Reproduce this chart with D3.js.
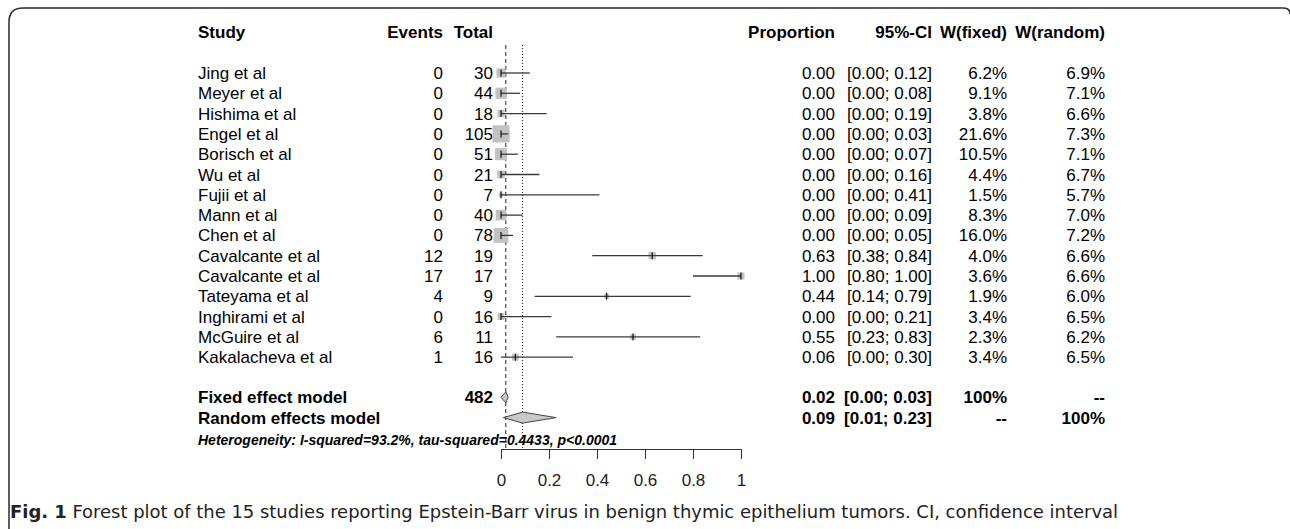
<!DOCTYPE html>
<html>
<head>
<meta charset="utf-8">
<script src="https://cdn.jsdelivr.net/npm/d3@7"></script>
<style>
  html, body { margin: 0; padding: 0; background: #fff; }
  svg { display: block; font-family: "Liberation Sans", Arial, sans-serif; }
</style>
</head>
<body>
<svg id="chart" width="1290" height="529"></svg>
<script>
// study data
const studies = ['Jing et al', 'Meyer et al', 'Hishima et al', 'Engel et al', 'Borisch et al',
  'Wu et al', 'Fujii et al', 'Mann et al', 'Chen et al', 'Cavalcante et al', 'Cavalcante et al',
  'Tateyama et al', 'Inghirami et al', 'McGuire et al', 'Kakalacheva et al'];
const events = [0, 0, 0, 0, 0, 0, 0, 0, 0, 12, 17, 4, 0, 6, 1];
const totals = [30, 44, 18, 105, 51, 21, 7, 40, 78, 19, 17, 9, 16, 11, 16];
const prop = [0, 0, 0, 0, 0, 0, 0, 0, 0, 0.63, 1.00, 0.44, 0, 0.55, 0.06];
const lower = [0, 0, 0, 0, 0, 0, 0, 0, 0, 0.38, 0.80, 0.14, 0, 0.23, 0];
const upper = [0.12, 0.08, 0.19, 0.03, 0.07, 0.16, 0.41, 0.09, 0.05, 0.84, 1.00, 0.79, 0.21, 0.83, 0.30];
const wFixed = [6.2, 9.1, 3.8, 21.6, 10.5, 4.4, 1.5, 8.3, 16.0, 4.0, 3.6, 1.9, 3.4, 2.3, 3.4];
const wRandom = [6.9, 7.1, 6.6, 7.3, 7.1, 6.7, 5.7, 7.0, 7.2, 6.6, 6.6, 6.0, 6.5, 6.2, 6.5];

// pooled estimates
const models = ['Fixed effect model', 'Random effects model'];
const modelEst = [0.02, 0.09];
const modelLo = [0.00, 0.01];
const modelHi = [0.03, 0.23];
const modelWF = ['100%', '--'];
const modelWR = ['--', '100%'];
const totalN = 482;
const hetText = 'Heterogeneity: I-squared=93.2%, tau-squared=0.4433, p<0.0001';
const xTicks = [0, 0.2, 0.4, 0.6, 0.8, 1];
const caption = 'Forest plot of the 15 studies reporting Epstein-Barr virus in benign thymic epithelium tumors. CI, confidence interval';

const svg = d3.select('#chart');
const FS = 17;

// frame around figure
svg.append('path')
  .attr('d', 'M9,529 L9,22 Q9,8 23,8 L1283,8 Q1290,8 1290,14')
  .attr('fill', 'none').attr('stroke', '#2a2a2a').attr('stroke-width', 1.5);

const x = d3.scaleLinear().domain([0, 1]).range([501, 741]);
const y = d3.scaleLinear().domain([0, 1]).range([73, 73 + 20.3]);
const rowY = i => y(i);
const modelY = i => y(studies.length + 1 + i) - 0.5;

const colStudy = 198, colEvents = 443, colTotal = 493, colProp = 835,
  colCI = 932, colWF = 1007, colWR = 1105;

// headers
const head = svg.append('g').attr('font-weight', 'bold').attr('font-size', FS);
head.append('text').attr('x', colStudy).attr('y', 38).text('Study');
[['Events', colEvents], ['Total', colTotal], ['Proportion', colProp], ['95%-CI', colCI],
 ['W(fixed)', colWF], ['W(random)', colWR]].forEach(([t, cx]) => {
  head.append('text').attr('x', cx).attr('y', 38).attr('text-anchor', 'end').text(t);
});

// reference lines
svg.append('line').attr('x1', x(modelEst[0])).attr('x2', x(modelEst[0]))
  .attr('y1', 45).attr('y2', 449).attr('stroke', '#222').attr('stroke-dasharray', '4,3');
svg.append('line').attr('x1', x(modelEst[1])).attr('x2', x(modelEst[1]))
  .attr('y1', 45).attr('y2', 449).attr('stroke', '#222').attr('stroke-dasharray', '1,2');

// study rows
const rows = svg.append('g').attr('font-size', FS);
studies.forEach((s, i) => {
  const yy = rowY(i);
  const bl = yy + 6;
  rows.append('text').attr('x', colStudy).attr('y', bl).text(s);
  rows.append('text').attr('x', colEvents).attr('y', bl).attr('text-anchor', 'end').text(events[i]);
  rows.append('text').attr('x', colTotal).attr('y', bl).attr('text-anchor', 'end').text(totals[i]);
  rows.append('text').attr('x', colProp).attr('y', bl).attr('text-anchor', 'end').text(prop[i].toFixed(2));
  rows.append('text').attr('x', colCI).attr('y', bl).attr('text-anchor', 'end')
    .text('[' + lower[i].toFixed(2) + '; ' + upper[i].toFixed(2) + ']');
  rows.append('text').attr('x', colWF).attr('y', bl).attr('text-anchor', 'end').text(wFixed[i].toFixed(1) + '%');
  rows.append('text').attr('x', colWR).attr('y', bl).attr('text-anchor', 'end').text(wRandom[i].toFixed(1) + '%');

  const side = 3.7 * Math.sqrt(wFixed[i]);
  svg.append('rect')
    .attr('x', x(prop[i]) - side / 2).attr('y', yy - side / 2)
    .attr('width', side).attr('height', side).attr('fill', '#c2c2c2');
  svg.append('line').attr('x1', x(lower[i])).attr('x2', x(upper[i]))
    .attr('y1', yy).attr('y2', yy).attr('stroke', '#3a3a3a').attr('stroke-width', 1.3);
  svg.append('line').attr('x1', x(prop[i])).attr('x2', x(prop[i]))
    .attr('y1', yy - 3.5).attr('y2', yy + 3.5).attr('stroke', '#111').attr('stroke-width', 1.2);
});

// pooled rows
const mg = svg.append('g').attr('font-size', FS).attr('font-weight', 'bold');
models.forEach((m, i) => {
  const yy = modelY(i);
  const bl = yy + 6;
  mg.append('text').attr('x', colStudy).attr('y', bl).text(m);
  if (i === 0) mg.append('text').attr('x', colTotal).attr('y', bl).attr('text-anchor', 'end').text(totalN);
  mg.append('text').attr('x', colProp).attr('y', bl).attr('text-anchor', 'end').text(modelEst[i].toFixed(2));
  mg.append('text').attr('x', colCI).attr('y', bl).attr('text-anchor', 'end')
    .text('[' + modelLo[i].toFixed(2) + '; ' + modelHi[i].toFixed(2) + ']');
  mg.append('text').attr('x', colWF).attr('y', bl).attr('text-anchor', 'end').text(modelWF[i]);
  mg.append('text').attr('x', colWR).attr('y', bl).attr('text-anchor', 'end').text(modelWR[i]);

  const h = 5.5;
  svg.append('path')
    .attr('d', `M${x(modelLo[i])},${yy} L${x(modelEst[i])},${yy - h} L${x(modelHi[i])},${yy} L${x(modelEst[i])},${yy + h} Z`)
    .attr('fill', '#c8c8c8').attr('stroke', '#444').attr('stroke-width', 1);
});

svg.append('text').attr('x', colStudy).attr('y', 445)
  .attr('font-size', 14).attr('font-weight', 'bold').attr('font-style', 'italic')
  .text(hetText);

// x axis
const axis = svg.append('g').attr('transform', 'translate(0,449)')
  .call(d3.axisBottom(x).tickValues(xTicks).tickFormat(d => String(d))
    .tickSize(10).tickSizeOuter(0).tickPadding(15));
axis.selectAll('text').attr('font-size', FS).attr('fill', '#222')
  .attr('font-family', '"Liberation Sans", Arial, sans-serif');
axis.selectAll('line, path').attr('stroke', '#333');

// caption
const cap = svg.append('text').attr('x', 10).attr('y', 518)
  .attr('font-size', 17).attr('fill', '#222')
  .attr('font-family', '"Liberation Sans Narrow", "DejaVu Sans Condensed", "Liberation Sans", sans-serif')
  .attr('textLength', 1108).attr('lengthAdjust', 'spacingAndGlyphs');
cap.append('tspan').attr('font-weight', 'bold').text('Fig. 1');
cap.append('tspan').text(' ' + caption);
</script>
</body>
</html>
